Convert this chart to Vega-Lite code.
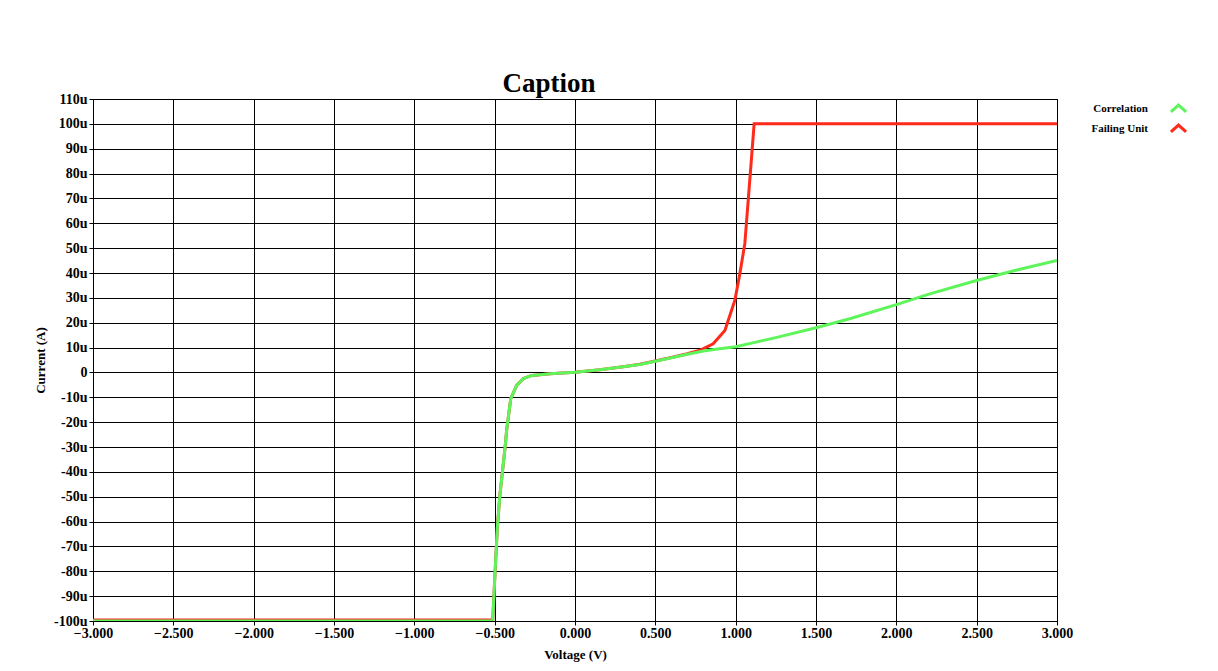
{
  "$schema": "https://vega.github.io/schema/vega-lite/v6.json",
  "width": 964,
  "height": 522,
  "autosize": {"type": "none"},
  "padding": {"left": 93, "top": 99, "right": 161, "bottom": 50},
  "background": "white",
  "title": {"text": "Caption", "font": "Liberation Serif", "fontSize": 27, "fontWeight": "bold", "color": "black", "anchor": "middle", "dx": -26, "offset": -6},
  "data": {"values": [
    {"V": -3.0, "I": -99.6, "s": "Failing Unit"},
    {"V": -0.512, "I": -99.6, "s": "Failing Unit"},
    {"V": -0.498, "I": -81, "s": "Failing Unit"},
    {"V": -0.483, "I": -62, "s": "Failing Unit"},
    {"V": -0.467, "I": -49, "s": "Failing Unit"},
    {"V": -0.45, "I": -39, "s": "Failing Unit"},
    {"V": -0.435, "I": -30, "s": "Failing Unit"},
    {"V": -0.425, "I": -23, "s": "Failing Unit"},
    {"V": -0.4, "I": -10.6, "s": "Failing Unit"},
    {"V": -0.363, "I": -5.2, "s": "Failing Unit"},
    {"V": -0.322, "I": -2.5, "s": "Failing Unit"},
    {"V": -0.269, "I": -1.2, "s": "Failing Unit"},
    {"V": -0.155, "I": -0.5, "s": "Failing Unit"},
    {"V": 0.0, "I": 0.1, "s": "Failing Unit"},
    {"V": 0.155, "I": 1.1, "s": "Failing Unit"},
    {"V": 0.3, "I": 2.3, "s": "Failing Unit"},
    {"V": 0.404, "I": 3.3, "s": "Failing Unit"},
    {"V": 0.5, "I": 4.6, "s": "Failing Unit"},
    {"V": 0.6, "I": 6.0, "s": "Failing Unit"},
    {"V": 0.7, "I": 7.5, "s": "Failing Unit"},
    {"V": 0.777, "I": 8.9, "s": "Failing Unit"},
    {"V": 0.86, "I": 11.5, "s": "Failing Unit"},
    {"V": 0.933, "I": 16.9, "s": "Failing Unit"},
    {"V": 0.995, "I": 29, "s": "Failing Unit"},
    {"V": 1.026, "I": 39.7, "s": "Failing Unit"},
    {"V": 1.057, "I": 51.8, "s": "Failing Unit"},
    {"V": 1.078, "I": 69.2, "s": "Failing Unit"},
    {"V": 1.099, "I": 86.6, "s": "Failing Unit"},
    {"V": 1.115, "I": 100, "s": "Failing Unit"},
    {"V": 3.0, "I": 100, "s": "Failing Unit"},
    {"V": -3.0, "I": -100, "s": "Correlation"},
    {"V": -0.512, "I": -100, "s": "Correlation"},
    {"V": -0.498, "I": -81, "s": "Correlation"},
    {"V": -0.483, "I": -62, "s": "Correlation"},
    {"V": -0.467, "I": -49, "s": "Correlation"},
    {"V": -0.45, "I": -39, "s": "Correlation"},
    {"V": -0.435, "I": -30, "s": "Correlation"},
    {"V": -0.425, "I": -23, "s": "Correlation"},
    {"V": -0.4, "I": -10.6, "s": "Correlation"},
    {"V": -0.363, "I": -5.2, "s": "Correlation"},
    {"V": -0.322, "I": -2.5, "s": "Correlation"},
    {"V": -0.269, "I": -1.2, "s": "Correlation"},
    {"V": -0.155, "I": -0.5, "s": "Correlation"},
    {"V": 0.0, "I": 0.1, "s": "Correlation"},
    {"V": 0.155, "I": 1.1, "s": "Correlation"},
    {"V": 0.3, "I": 2.3, "s": "Correlation"},
    {"V": 0.404, "I": 3.2, "s": "Correlation"},
    {"V": 0.5, "I": 4.5, "s": "Correlation"},
    {"V": 0.6, "I": 5.9, "s": "Correlation"},
    {"V": 0.7, "I": 7.3, "s": "Correlation"},
    {"V": 0.8, "I": 8.6, "s": "Correlation"},
    {"V": 0.9, "I": 9.5, "s": "Correlation"},
    {"V": 1.0, "I": 10.3, "s": "Correlation"},
    {"V": 1.1, "I": 11.8, "s": "Correlation"},
    {"V": 1.25, "I": 14.0, "s": "Correlation"},
    {"V": 1.5, "I": 18.0, "s": "Correlation"},
    {"V": 1.71, "I": 21.6, "s": "Correlation"},
    {"V": 2.0, "I": 27.3, "s": "Correlation"},
    {"V": 2.208, "I": 31.6, "s": "Correlation"},
    {"V": 2.499, "I": 37.0, "s": "Correlation"},
    {"V": 2.75, "I": 41.2, "s": "Correlation"},
    {"V": 3.0, "I": 45.0, "s": "Correlation"}
  ]},
  "encoding": {
    "x": {"field": "V", "type": "quantitative", "title": "Voltage (V)",
      "scale": {"domain": [-3, 3], "nice": false, "zero": false},
      "axis": {"values": [-3, -2.5, -2, -1.5, -1, -0.5, 0, 0.5, 1, 1.5, 2, 2.5, 3], "format": ".3f", "labelFontSize": 14}},
    "y": {"field": "I", "type": "quantitative", "title": "Current (A)",
      "scale": {"domain": [-100, 110], "nice": false, "zero": false},
      "axis": {"values": [-100, -90, -80, -70, -60, -50, -40, -30, -20, -10, 0, 10, 20, 30, 40, 50, 60, 70, 80, 90, 100, 110],
        "labelExpr": "datum.value == 0 ? '0' : datum.value + 'u'", "labelFontSize": 14, "labelPadding": 2}},
    "color": {"field": "s", "type": "nominal",
      "scale": {"domain": ["Correlation", "Failing Unit"], "range": ["#5ef55a", "#ff2a1a"]},
      "legend": {"title": null, "orient": "none", "legendX": 1076, "legendY": 0,
        "symbolType": "M-1,0.45L0,-0.45L1,0.45", "symbolSize": 230, "symbolStrokeWidth": 3,
        "labelAlign": "right", "labelOffset": -40, "rowPadding": 1, "labelLimit": 200,
        "labelFont": "Liberation Serif", "labelFontSize": 11, "labelFontWeight": "bold", "labelColor": "black"}}
  },
  "layer": [
    {"transform": [{"filter": "datum.s == 'Failing Unit'"}], "mark": {"type": "line", "strokeWidth": 3, "clip": true}},
    {"transform": [{"filter": "datum.s == 'Correlation'"}], "mark": {"type": "line", "strokeWidth": 3, "clip": true}}
  ],
  "config": {
    "view": {"stroke": "black", "strokeWidth": 1},
    "axis": {
      "grid": true, "gridColor": "black", "gridOpacity": 1, "gridWidth": 1,
      "domain": false, "tickColor": "black", "tickSize": 4, "labelFlush": false,
      "labelFont": "Liberation Serif", "labelFontWeight": "bold", "labelColor": "black",
      "titleFont": "Liberation Serif", "titleFontSize": 13, "titleFontWeight": "bold", "titleColor": "black"
    },
    "axisX": {"labelPadding": 1, "titlePadding": 8},
    "axisY": {"titlePadding": 6}
  }
}
